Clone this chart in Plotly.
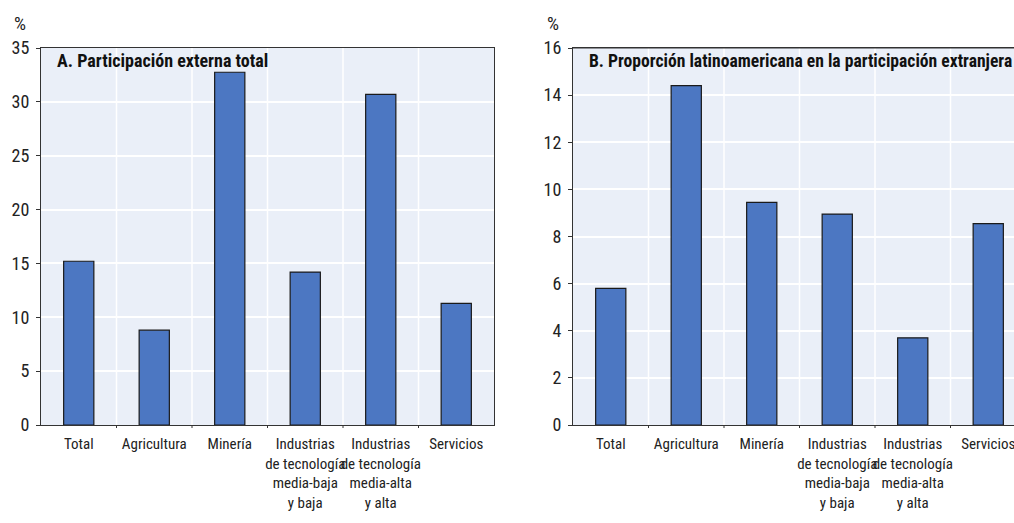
import plotly.graph_objects as go

categories = ["Total", "Agricultura", "Minería",
              "Industrias<br>de tecnología<br>media-baja<br>y baja",
              "Industrias<br>de tecnología<br>media-alta<br>y alta",
              "Servicios"]
values_a = [15.2, 8.8, 32.75, 14.2, 30.7, 11.3]
values_b = [5.8, 14.4, 9.45, 8.95, 3.7, 8.55]
title_a = "A. Participación externa total"
title_b = "B. Proporción latinoamericana en la participación extranjera"
yticks_a = [0, 5, 10, 15, 20, 25, 30, 35]
yticks_b = [0, 2, 4, 6, 8, 10, 12, 14, 16]

NARROW = "Roboto Condensed, Liberation Sans Narrow, Arial Narrow, sans-serif"
BAR = "#4C77C2"
EDGE = "#1a1a1a"
BG = "#EAEFF8"
LINE = "#333333"

W, H = 1014, 523
TOP, BOT = 48, 425
fig = go.Figure()
fig.add_trace(go.Bar(x=list(range(len(categories))), y=values_a, xaxis="x", yaxis="y",
                     marker=dict(color=BAR, line=dict(color=EDGE, width=1.2)),
                     showlegend=False, hoverinfo="skip"))
fig.add_trace(go.Bar(x=list(range(len(categories))), y=values_b, xaxis="x2", yaxis="y2",
                     marker=dict(color=BAR, line=dict(color=EDGE, width=1.2)),
                     showlegend=False, hoverinfo="skip"))

ydom = [(H - BOT) / H, (H - TOP) / H]
xcommon = dict(tickmode="array", tickvals=list(range(len(categories))), ticktext=categories,
               tickangle=0, showgrid=False, ticks="", showline=True, linecolor=LINE,
               linewidth=1, mirror=True, ticklabeloverflow="allow", automargin=False,
               ticklabelstandoff=5,
               tickfont=dict(family=NARROW, size=15, color="#222"), fixedrange=True)
ycommon = dict(showgrid=True, gridcolor="white", gridwidth=1.5, zeroline=False,
               ticks="outside", ticklen=4, tickcolor=LINE, showline=True, automargin=False,
               linecolor=LINE, linewidth=1, ticklabelstandoff=3,
               tickfont=dict(family=NARROW, size=18, color="#222"),
               fixedrange=True, domain=ydom)

fig.update_layout(
    width=W, height=H, autosize=False,
    margin=dict(l=0, r=0, t=0, b=0, pad=0),
    paper_bgcolor="white", plot_bgcolor=BG,
    bargap=0.6,
    font=dict(family=NARROW, color="#222"),
    xaxis=dict(domain=[41 / W, 494 / W], range=[-0.5, 5.5], anchor="y", **xcommon),
    xaxis2=dict(domain=[573 / W, 1.0], range=[-0.5, (W - 573) / ((494 - 41) / 6) - 0.5],
                anchor="y2", **xcommon),
    yaxis=dict(range=[0, 35], tickvals=yticks_a, anchor="x", mirror=True, **ycommon),
    yaxis2=dict(range=[0, 16], tickvals=yticks_b, anchor="x2", mirror=False, **ycommon),
)

# vertical gridlines and small ticks at category boundaries
for xa, ya, top in (("x", "y", 35), ("x2", "y2", 16)):
    for b in [0.5, 1.5, 2.5, 3.5, 4.5]:
        fig.add_shape(type="line", xref=xa, yref=ya, x0=b, x1=b, y0=0, y1=top,
                      line=dict(color="white", width=1.5), layer="below")
        fig.add_shape(type="line", xref=xa, yref=ya + " domain", x0=b, x1=b, y0=0, y1=-0.008,
                      line=dict(color=LINE, width=1))
# top line for panel B (no right border visible)
fig.add_shape(type="line", xref="x2 domain", yref="y2 domain", x0=0, x1=1, y0=1, y1=1,
              line=dict(color=LINE, width=1))

ty = (BOT - 61) / (BOT - TOP)
fig.add_annotation(text="<b>" + title_a + "</b>", xref="x domain", yref="y domain",
                   x=14 / 453, y=ty, xanchor="left", yanchor="middle", showarrow=False,
                   font=dict(family=NARROW, size=18, color="#111"))
fig.add_annotation(text="<b>" + title_b + "</b>", xref="x2 domain", yref="y2 domain",
                   x=14 / (W - 573), y=ty, xanchor="left", yanchor="middle", showarrow=False,
                   font=dict(family=NARROW, size=17.6, color="#111"))
fig.add_annotation(text="%", xref="paper", yref="paper", x=20 / W, y=(H - 23) / H,
                   xanchor="center", yanchor="middle", showarrow=False,
                   font=dict(family=NARROW, size=19, color="#222"))
fig.add_annotation(text="%", xref="paper", yref="paper", x=553 / W, y=(H - 23) / H,
                   xanchor="center", yanchor="middle", showarrow=False,
                   font=dict(family=NARROW, size=19, color="#222"))

fig.write_html("out.html", config={"displayModeBar": False},
               post_script="document.body.style.margin='0';document.body.style.overflow='hidden';")
